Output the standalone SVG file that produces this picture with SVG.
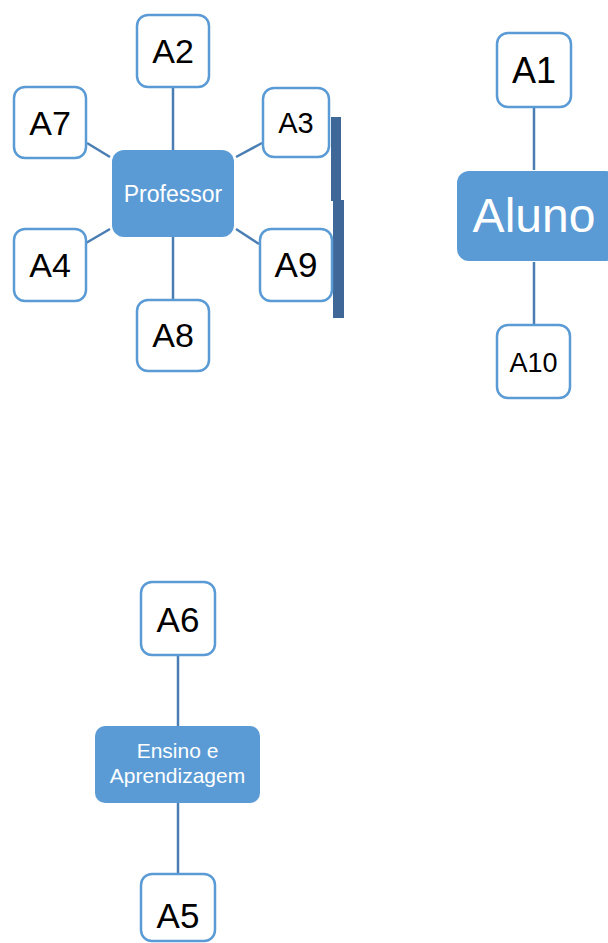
<svg xmlns="http://www.w3.org/2000/svg" width="608" height="943" viewBox="0 0 608 943">
<style>
.box{fill:#fff;stroke:#5B9BD5;stroke-width:2.5}
.hub{fill:#5B9BD5;stroke:none}
.t{font-family:"Liberation Sans",Arial,sans-serif;fill:#000;text-anchor:middle}
.w{font-family:"Liberation Sans",Arial,sans-serif;fill:#fff;text-anchor:middle}
.c line{stroke:#4A7EB3;stroke-width:2.5}
</style>
<rect width="608" height="943" fill="#fff"/>
<g id="bar" fill="#3F6797">
<rect x="331" y="117" width="10" height="84"/>
<rect x="333" y="200" width="11" height="118"/>
</g>
<g class="c" id="connectors">
<line x1="173" y1="87" x2="173" y2="150"/>
<line x1="87" y1="143" x2="110" y2="157"/>
<line x1="236" y1="157" x2="262" y2="143"/>
<line x1="86" y1="243" x2="110" y2="229"/>
<line x1="236" y1="229" x2="259" y2="244"/>
<line x1="173" y1="237" x2="173" y2="300"/>
<line x1="534" y1="107" x2="534" y2="170"/>
<line x1="534" y1="262" x2="534" y2="325"/>
<line x1="178" y1="655" x2="178" y2="726"/>
<line x1="178" y1="803" x2="178" y2="874"/>
</g>
<g id="professor"><rect class="hub" x="112" y="150" width="122" height="87" rx="12"/><text class="w" x="173" y="202" font-size="23">Professor</text></g>
<g id="a2"><rect class="box" x="137" y="15" width="72" height="72" rx="11"/><text class="t" x="173" y="63" font-size="34">A2</text></g>
<g id="a7"><rect class="box" x="14" y="87" width="72" height="71" rx="11"/><text class="t" x="50" y="135" font-size="34">A7</text></g>
<g id="a3"><rect class="box" x="263" y="88" width="66" height="69" rx="11"/><text class="t" x="296" y="133" font-size="29">A3</text></g>
<g id="a4"><rect class="box" x="14" y="229" width="72" height="72" rx="11"/><text class="t" x="50" y="277" font-size="34">A4</text></g>
<g id="a9"><rect class="box" x="260" y="229" width="72" height="72" rx="11"/><text class="t" x="296" y="277" font-size="35">A9</text></g>
<g id="a8"><rect class="box" x="137" y="300" width="72" height="71" rx="11"/><text class="t" x="173" y="347" font-size="34">A8</text></g>
<g id="aluno"><rect class="hub" x="457" y="171" width="160" height="90" rx="12"/><text class="w" x="534" y="232" font-size="48">Aluno</text></g>
<g id="a1"><rect class="box" x="497" y="33" width="74" height="74" rx="11"/><text class="t" x="534" y="83" font-size="36">A1</text></g>
<g id="a10"><rect class="box" x="497" y="325" width="73" height="73" rx="11"/><text class="t" x="533.5" y="372" font-size="27">A10</text></g>
<g id="ensino"><rect class="hub" x="95" y="726" width="165" height="77" rx="10"/><text class="w" x="177.5" y="758" font-size="21">Ensino e</text><text class="w" x="177.5" y="783" font-size="21">Aprendizagem</text></g>
<g id="a6"><rect class="box" x="141" y="582" width="74" height="73" rx="11"/><text class="t" x="178" y="632" font-size="35">A6</text></g>
<g id="a5"><rect class="box" x="141" y="874" width="74" height="67" rx="11"/><text class="t" x="178" y="928" font-size="35">A5</text></g>
</svg>
